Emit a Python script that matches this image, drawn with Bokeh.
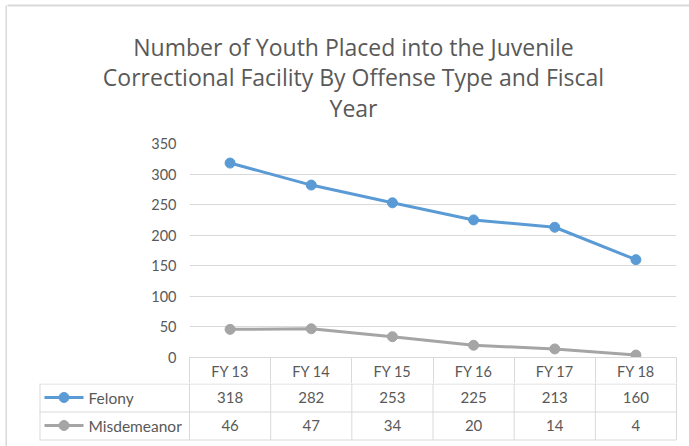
from bokeh.plotting import figure
from bokeh.layouts import row, column
from bokeh.models import Range1d, FixedTicker, LinearAxis, ColumnDataSource
from bokeh.embed import file_html
from bokeh.resources import INLINE

# ---- data ----
categories = ["FY 13", "FY 14", "FY 15", "FY 16", "FY 17", "FY 18"]
felony = [318, 282, 253, 225, 213, 160]
misdemeanor = [46, 47, 34, 20, 14, 4]
series_names = ["Felony", "Misdemeanor"]
y_ticks = [0, 50, 100, 150, 200, 250, 300, 350]
title_lines = ["Number of Youth Placed into the Juvenile",
               "Correctional Facility By Offense Type and Fiscal",
               "Year"]

# ---- layout (page pixels) ----
PW, PH = 689, 446
STRIP = 7                       # left strip holding the chart's outer border
MW = PW - STRIP
FL, FR, FT, FB = 189, 676, 143, 357   # plot frame
TITLE_B = 128                   # bottom of the title figure
ROW1_T, ROW2_T, TBL_B, LEG_L = 383, 411, 439, 39
YMAX = 350
FONT = "Lato"
TFONT = "Open Sans"
TXT = "#595959"
GRID = "#d9d9d9"
BORDER = "#d9d9d9"
BLUE = "#5b9bd5"
GREY = "#a5a5a5"
ncat = len(categories)
ppu_x = (FR - FL) / ncat


def X(px):
    return (px - FL) / ppu_x


def bare(fig):
    fig.outline_line_color = None
    fig.xgrid.visible = False
    fig.ygrid.visible = False
    fig.background_fill_color = "white"
    fig.border_fill_color = "white"
    return fig


# ---- left strip: outer border of the chart object ----
strip = bare(figure(width=STRIP, height=PH, x_range=Range1d(0, STRIP), y_range=Range1d(PH, 0),
                    output_backend="svg", toolbar_location=None, min_border=0,
                    x_axis_location=None, y_axis_location=None, frame_align=False))
strip.segment(x0=[6], y0=[5], x1=[6], y1=[PH], line_color=BORDER, line_width=2)

# ---- title ----
tfig = bare(figure(width=MW, height=TITLE_B, x_range=Range1d(STRIP, PW), y_range=Range1d(TITLE_B, 0),
                   output_backend="svg", toolbar_location=None, min_border=0,
                   x_axis_location=None, y_axis_location=None, frame_align=False))
tfig.segment(x0=[STRIP - 2], y0=[5], x1=[PW], y1=[5], line_color=BORDER, line_width=2)
tfig.text(x=[353] * 3, y=[46, 76.5, 107], text=title_lines, text_align="center",
          text_baseline="alphabetic", text_font={"value": TFONT}, text_font_size="23px",
          text_color=TXT)

# ---- chart ----
xs = [i + 0.5 for i in range(ncat)]
src = ColumnDataSource(dict(x=xs, felony=felony, misd=misdemeanor))

p = figure(width=MW, height=ROW1_T - TITLE_B, x_range=Range1d(0, ncat), y_range=Range1d(0, YMAX),
           output_backend="svg", toolbar_location=None, x_axis_location=None,
           min_border_left=FL - STRIP, min_border_right=PW - FR,
           min_border_top=FT - TITLE_B, min_border_bottom=ROW1_T - FB, frame_align=False)
p.outline_line_color = None
p.background_fill_color = "white"
p.border_fill_color = "white"

p.yaxis.ticker = FixedTicker(ticks=y_ticks)
p.yaxis.axis_line_color = None
p.yaxis.major_tick_line_color = None
p.yaxis.minor_tick_line_color = None
p.yaxis.major_tick_out = 0
p.yaxis.major_tick_in = 0
p.yaxis.major_label_standoff = 13
p.yaxis.major_label_text_font = FONT
p.yaxis.major_label_text_font_size = "14.5px"
p.yaxis.major_label_text_color = TXT

xaxis = LinearAxis(ticker=FixedTicker(ticks=xs, minor_ticks=list(range(ncat + 1))),
                   major_label_overrides={x: c for x, c in zip(xs, categories)})
xaxis.axis_line_color = GRID
xaxis.major_tick_line_color = None
xaxis.major_tick_out = 0
xaxis.major_tick_in = 0
xaxis.minor_tick_line_color = GRID
xaxis.minor_tick_out = ROW1_T - FB
xaxis.minor_tick_in = 0
xaxis.major_label_standoff = -21
xaxis.major_label_text_font = FONT
xaxis.major_label_text_font_size = "14.5px"
xaxis.major_label_text_color = TXT
p.add_layout(xaxis, "below")

p.ygrid.ticker = FixedTicker(ticks=y_ticks)
p.ygrid.grid_line_color = GRID
p.ygrid.grid_line_width = 1
p.xgrid.visible = False

p.line("x", "felony", source=src, line_color=BLUE, line_width=3)
p.scatter("x", "felony", source=src, size=10, fill_color=BLUE, line_color=BLUE)
p.line("x", "misd", source=src, line_color=GREY, line_width=3)
p.scatter("x", "misd", source=src, size=10, fill_color=GREY, line_color=GREY)

# ---- data table body ----
tb = bare(figure(width=MW, height=PH - ROW1_T, x_range=Range1d(X(STRIP), X(PW)),
                 y_range=Range1d(PH, ROW1_T), output_backend="svg", toolbar_location=None,
                 min_border=0, x_axis_location=None, y_axis_location=None, frame_align=False))
# horizontal rules
hy = [ROW1_T + 0.5, ROW2_T + 0.5, TBL_B + 0.5]
tb.segment(x0=[X(LEG_L)] * 3, y0=hy, x1=[ncat] * 3, y1=hy, line_color=GRID, line_width=1)
# vertical rules
vx = [X(LEG_L + 0.5)] + list(range(ncat + 1))
tb.segment(x0=vx, y0=[ROW1_T] * len(vx), x1=vx, y1=[TBL_B + 0.5] * len(vx),
           line_color=GRID, line_width=1)

yr = [(ROW1_T + ROW2_T) / 2, (ROW2_T + TBL_B) / 2]
tb.text(x=xs + xs, y=[yr[0]] * ncat + [yr[1]] * ncat,
        text=[str(v) for v in felony] + [str(v) for v in misdemeanor],
        text_align="center", text_baseline="middle", text_font={"value": FONT},
        text_font_size="15px", text_color=TXT)

# legend keys in the first column
for yy, col in zip(yr, [BLUE, GREY]):
    tb.line(x=[X(44), X(83)], y=[yy, yy], line_color=col, line_width=3)
    tb.scatter(x=[X(63.5)], y=[yy], size=10, fill_color=col, line_color=col)
tb.text(x=[X(88)] * 2, y=yr, text=series_names, text_align="left", text_baseline="middle",
        text_font={"value": FONT}, text_font_size="15.5px", text_color=TXT)

layout = row(strip, column(tfig, p, tb))
open("out.html", "w").write(file_html(layout, INLINE))
